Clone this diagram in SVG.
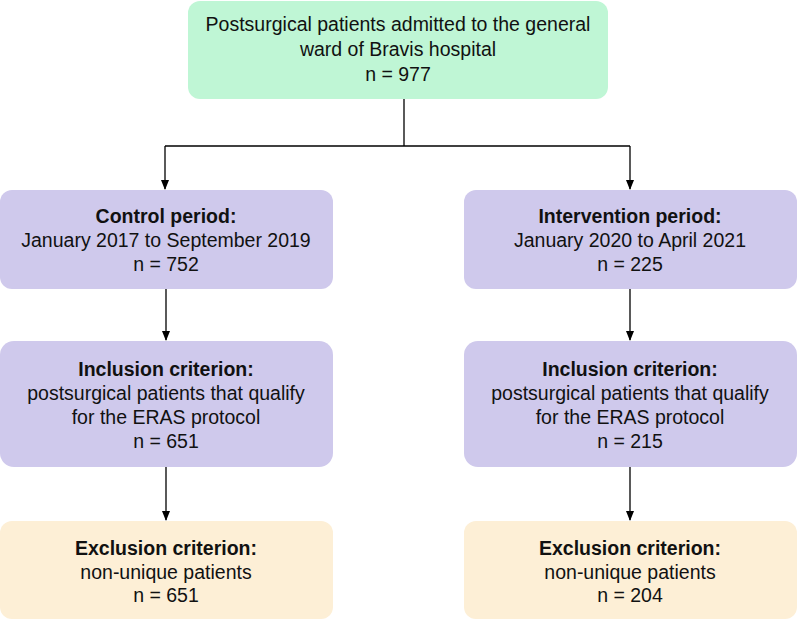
<svg xmlns="http://www.w3.org/2000/svg" width="797" height="621" viewBox="0 0 797 621">
<defs>
<style>
text{font-family:"Liberation Sans",Arial,Helvetica,sans-serif;font-size:19.5px;fill:#111;text-anchor:middle}
.b{font-weight:bold}
.green{fill:#bff6d5}
.purple{fill:#cfc9ec}
.peach{fill:#fdefd6}
.line{stroke:#000;stroke-width:1.3;fill:none}
</style>
<marker id="arr" markerWidth="10" markerHeight="14" refX="9" refY="5" orient="auto" markerUnits="userSpaceOnUse" viewBox="0 0 10 10">
<path d="M0,1 L10,5 L0,9 Z" fill="#000"/>
</marker>
</defs>
<g id="connectors">
<path class="line" d="M404,99 V146"/>
<path class="line" d="M165,146 H630"/>
<path class="line" d="M165,146 V189" marker-end="url(#arr)"/>
<path class="line" d="M630,146 V189" marker-end="url(#arr)"/>
<path class="line" d="M166,289 V340" marker-end="url(#arr)"/>
<path class="line" d="M630,289 V340" marker-end="url(#arr)"/>
<path class="line" d="M166,467 V520" marker-end="url(#arr)"/>
<path class="line" d="M630,467 V520" marker-end="url(#arr)"/>
</g>
<g id="top">
<rect class="green" x="188" y="1" width="420" height="98" rx="12"/>
<text x="398" y="31">Postsurgical patients admitted to the general</text>
<text x="398" y="56">ward of Bravis hospital</text>
<text x="398" y="81">n = 977</text>
</g>
<g id="control">
<rect class="purple" x="0" y="190" width="333" height="99" rx="12"/>
<text class="b" x="166" y="223">Control period:</text>
<text x="166" y="247">January 2017 to September 2019</text>
<text x="166" y="271">n = 752</text>
</g>
<g id="intervention">
<rect class="purple" x="464" y="190" width="333" height="99" rx="12"/>
<text class="b" x="630" y="223">Intervention period:</text>
<text x="630" y="247">January 2020 to April 2021</text>
<text x="630" y="271">n = 225</text>
</g>
<g id="inclusion-left">
<rect class="purple" x="0" y="341" width="333" height="126" rx="14"/>
<text class="b" x="166" y="376">Inclusion criterion:</text>
<text x="166" y="400">postsurgical patients that qualify</text>
<text x="166" y="424">for the ERAS protocol</text>
<text x="166" y="448">n = 651</text>
</g>
<g id="inclusion-right">
<rect class="purple" x="464" y="341" width="333" height="126" rx="14"/>
<text class="b" x="630" y="376">Inclusion criterion:</text>
<text x="630" y="400">postsurgical patients that qualify</text>
<text x="630" y="424">for the ERAS protocol</text>
<text x="630" y="448">n = 215</text>
</g>
<g id="exclusion-left">
<rect class="peach" x="0" y="521" width="333" height="98" rx="12"/>
<text class="b" x="166" y="555">Exclusion criterion:</text>
<text x="166" y="579">non-unique patients</text>
<text x="166" y="602">n = 651</text>
</g>
<g id="exclusion-right">
<rect class="peach" x="464" y="521" width="333" height="98" rx="12"/>
<text class="b" x="630" y="555">Exclusion criterion:</text>
<text x="630" y="579">non-unique patients</text>
<text x="630" y="602">n = 204</text>
</g>
</svg>
